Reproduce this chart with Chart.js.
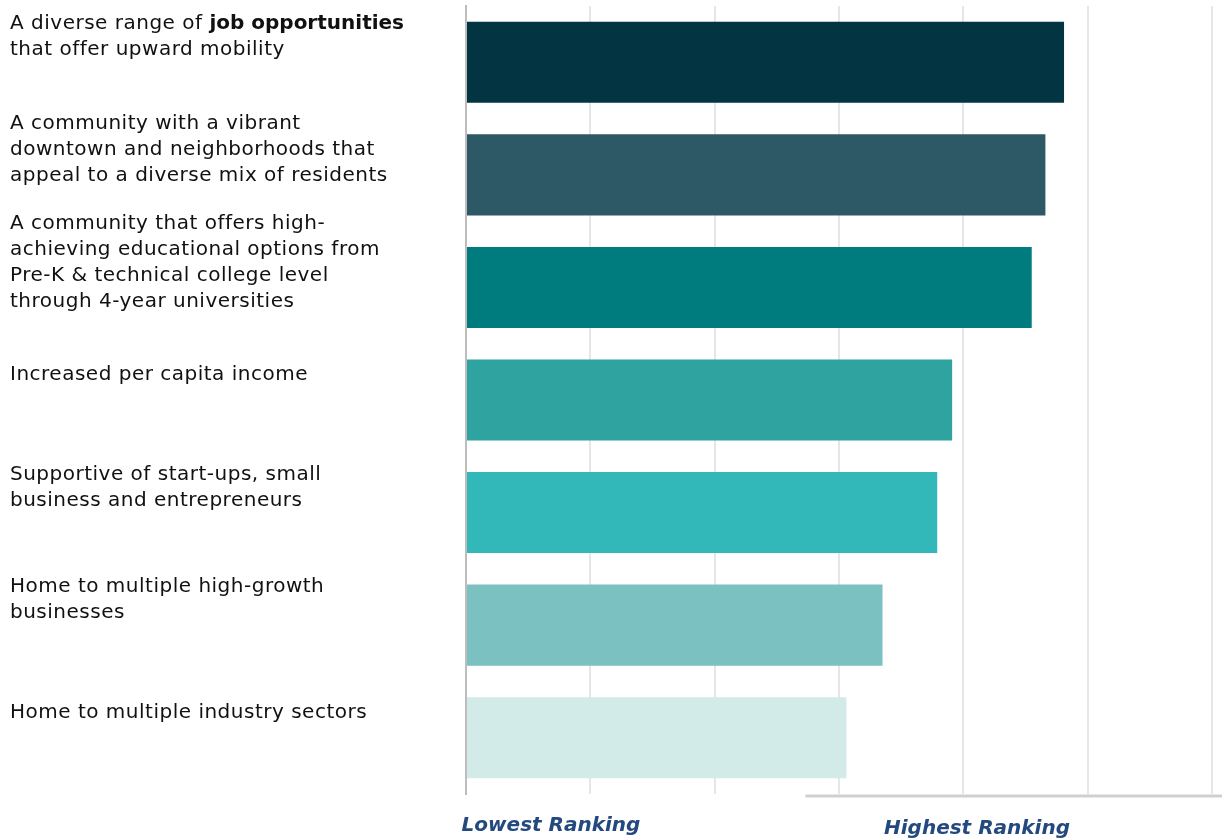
<!DOCTYPE html>
<html>
<head>
<meta charset="utf-8">
<script src="https://cdn.jsdelivr.net/npm/chart.js@4"></script>
<style>
  html, body { margin: 0; padding: 0; background: #fff; }
  #wrap { width: 1229px; height: 840px; }
</style>
</head>
<body>
<div id="wrap"><canvas id="grafico" width="1229" height="840"></canvas></div>
<script>
// Rótulos das categorias (trechos entre ** ficam em negrito)
const categorias = [
  ["A diverse range of **job opportunities**", "that offer upward mobility"],
  ["A community with a vibrant", "downtown and neighborhoods that", "appeal to a diverse mix of residents"],
  ["A community that offers high-", "achieving educational options from", "Pre-K & technical college level", "through 4-year universities"],
  ["Increased per capita income"],
  ["Supportive of start-ups, small", "business and entrepreneurs"],
  ["Home to multiple high-growth", "businesses"],
  ["Home to multiple industry sectors"]
];

// Pontuação média de cada prioridade (escala 0 a 6)
const valores = [4.81, 4.66, 4.55, 3.91, 3.79, 3.35, 3.06];

const cores = ["#023441", "#2d5865", "#017c7e", "#2ea39f", "#32b8b8", "#7bc1c1", "#d3ebe8"];

const rotulosEixo = ["Lowest Ranking", "Highest Ranking"];

// Desenha os textos à esquerda, a linha de base parcial e os rótulos do eixo
const rotulosPlugin = {
  id: "rotulos",
  afterDraw(chart) {
    const ctx = chart.ctx;
    const y = chart.scales.y;
    const x = chart.scales.x;
    const area = chart.chartArea;
    const alturaLinha = 26;

    ctx.save();
    ctx.fillStyle = "#111";
    ctx.textBaseline = "middle";
    ctx.textAlign = "left";
    categorias.forEach((linhas, i) => {
      const centro = y.getPixelForTick(i) - 25;
      const topo = centro - (linhas.length - 1) * alturaLinha / 2;
      linhas.forEach((linha, j) => {
        let px = 10;
        linha.split("**").forEach((parte, k) => {
          const negrito = k % 2 === 1;
          ctx.font = (negrito ? "bold " : "") + "20px 'DejaVu Sans'";
          ctx.letterSpacing = negrito ? "0px" : "0.5px";
          ctx.fillText(parte, px, topo + j * alturaLinha);
          px += ctx.measureText(parte).width;
        });
      });
    });
    ctx.letterSpacing = "0px";

    // linha de base (só na metade direita)
    ctx.strokeStyle = "#cfcfcf";
    ctx.lineWidth = 3;
    ctx.beginPath();
    ctx.moveTo(x.getPixelForValue(2.73), area.bottom + 2);
    ctx.lineTo(area.right + 10, area.bottom + 2);
    ctx.stroke();

    // rótulos das extremidades
    ctx.fillStyle = "#23497f";
    ctx.font = "italic bold 20px 'DejaVu Sans'";
    ctx.textAlign = "center";
    ctx.fillText(rotulosEixo[0], 551, 826);
    ctx.fillText(rotulosEixo[1], 977, 829);
    ctx.restore();
  }
};

new Chart(document.getElementById("grafico"), {
  type: "bar",
  data: {
    labels: categorias.map(l => l.join(" ").replace(/\*\*/g, "")),
    datasets: [{
      data: valores,
      backgroundColor: cores,
      borderWidth: 0,
      barPercentage: 0.72,
      categoryPercentage: 1
    }]
  },
  options: {
    indexAxis: "y",
    responsive: false,
    animation: false,
    layout: { padding: { left: 466, right: 17, top: 6, bottom: 46 } },
    plugins: {
      legend: { display: false },
      tooltip: { enabled: false }
    },
    scales: {
      x: {
        min: 0,
        max: 6,
        ticks: { display: false, stepSize: 1 },
        grid: { color: "#e6e6e6", lineWidth: 2, drawTicks: false },
        border: { display: false }
      },
      y: {
        ticks: { display: false },
        grid: { display: false, drawTicks: false },
        border: { display: true, color: "#bdbdbd", width: 2 }
      }
    }
  },
  plugins: [rotulosPlugin]
});
</script>
</body>
</html>
